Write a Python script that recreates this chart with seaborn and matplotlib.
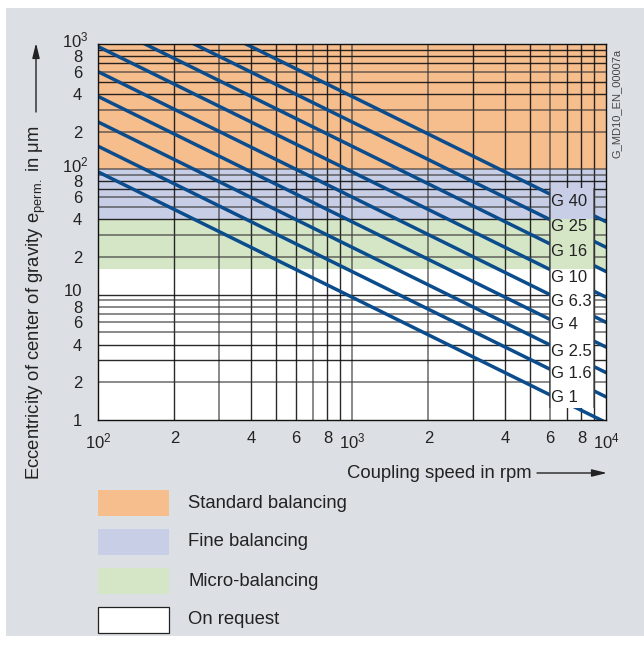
import pandas as pd
import seaborn as sns
import matplotlib.pyplot as plt
from matplotlib.patches import Rectangle
from matplotlib.ticker import NullLocator
from matplotlib.transforms import ScaledTranslation

# Balance grades, eccentricity at 100 rpm and at 10^4 rpm
grades = ['G 1', 'G 1.6', 'G 2.5', 'G 4', 'G 6.3', 'G 10', 'G 16', 'G 25', 'G 40']
speed_ends = [100, 10000]
e_at_100 = [95.5, 153, 239, 382, 602, 955, 1530, 2390, 3820]
e_at_10k = [0.955, 1.53, 2.39, 3.82, 6.02, 9.55, 15.3, 23.9, 38.2]
label_e = [1.5, 2.33, 3.55, 5.73, 8.9, 13.8, 21.9, 34.7, 55]

# balancing bands (eccentricity ranges)
bands = ['Standard balancing', 'Fine balancing', 'Micro-balancing', 'On request']
band_lo = [100, 40, 16, 1]
band_hi = [1000, 100, 40, 16]
band_colors = ['#f6bd8d', '#c8cee6', '#d5e6c7', '#ffffff']

# label box
box_speed = [6000, 9000]
box_e = [1.25, 71]

x_ticks = [100, 200, 400, 600, 800, 1000, 2000, 4000, 6000, 8000, 10000]
x_labels = ['$10^2$', '2', '4', '6', '8', '$10^3$', '2', '4', '6', '8', '$10^4$']
y_ticks = [1, 2, 4, 6, 8, 10, 20, 40, 60, 80, 100, 200, 400, 600, 800, 1000]
y_labels = ['1', '2', '4', '6', '8', '10', '2', '4', '6', '8', '$10^2$',
            '2', '4', '6', '8', '$10^3$']

x_grid = [200, 300, 400, 500, 600, 700, 800, 900, 1000,
          2000, 3000, 4000, 5000, 6000, 7000, 8000, 9000]
x_grid_gray = [300, 700, 1000, 2000, 6000]
y_grid = [2, 3, 4, 5, 6, 7, 8, 9, 10, 20, 30, 40, 50, 60, 70, 80, 90,
          100, 200, 300, 400, 500, 600, 700, 800, 900]
y_grid_gray = [2, 5, 6, 7, 8, 9, 20, 30, 50, 60, 90, 100, 200, 300, 600]

blue = '#0b4c8c'
txt = '#222222'

sns.set_style('white')
plt.rcParams['font.family'] = ['Liberation Sans', 'DejaVu Sans']
plt.rcParams['mathtext.fontset'] = 'custom'
plt.rcParams['mathtext.rm'] = 'Liberation Sans'
plt.rcParams['mathtext.it'] = 'Liberation Sans:italic'

W, H = 644, 645
fig = plt.figure(figsize=(W / 100, H / 100), dpi=100)
fig.patch.set_facecolor('white')
fig.patches.append(Rectangle((6 / W, 1 - 636 / H), 638 / W, 628 / H,
                             transform=fig.transFigure, facecolor='#dce0e4',
                             lw=0, zorder=-10))

ax = fig.add_axes([98 / W, 1 - 420 / H, 508 / W, 376 / H])
ax.set_facecolor('white')
ax.set_xscale('log')
ax.set_yscale('log')

# coloured bands
for lo, hi, c in zip(band_lo[:3], band_hi[:3], band_colors[:3]):
    ax.axhspan(lo, hi, color=c, lw=0, zorder=0)

# grid
for v in x_grid:
    if v in x_grid_gray:
        ax.axvline(v, color='#3a3a3a', lw=1.4, alpha=0.6, zorder=1)
    else:
        ax.axvline(v, color='#111111', lw=1.0, alpha=0.9, zorder=1)
for v in y_grid:
    if v in y_grid_gray:
        ax.axhline(v, color='#3a3a3a', lw=1.4, alpha=0.6, zorder=1)
    else:
        ax.axhline(v, color='#111111', lw=1.0, alpha=0.9, zorder=1)

# G lines
rows = []
for g, e0, e1 in zip(grades, e_at_100, e_at_10k):
    rows.append({'grade': g, 'speed': speed_ends[0], 'e': e0})
    rows.append({'grade': g, 'speed': speed_ends[1], 'e': e1})
df = pd.DataFrame(rows)
sns.lineplot(data=df, x='speed', y='e', hue='grade', palette=[blue] * len(grades),
             legend=False, lw=2.5, ax=ax, zorder=3, estimator=None, sort=False)

# label box hides grid and lines
for lo, hi, c in zip(band_lo[1:], band_hi[1:], band_colors[1:]):
    lo2, hi2 = max(lo, box_e[0]), min(hi, box_e[1])
    if hi2 > lo2:
        ax.add_patch(Rectangle((box_speed[0], lo2), box_speed[1] - box_speed[0],
                               hi2 - lo2, facecolor=c, lw=0, zorder=4))
for v in box_speed:
    ax.vlines(v, box_e[0], box_e[1], color='#3a3a3a', lw=1.2, alpha=0.8, zorder=5)
for g, e in zip(grades, label_e):
    ax.text(box_speed[0] * 1.01, e, g, ha='left', va='center', fontsize=12,
            color=txt, zorder=6)

ax.set_xlim(100, 10000)
ax.set_ylim(1, 1000)
ax.set_xticks(x_ticks, x_labels)
ax.set_yticks(y_ticks, y_labels)
ax.xaxis.set_minor_locator(NullLocator())
ax.yaxis.set_minor_locator(NullLocator())
ax.tick_params(width=0.9, labelsize=12, colors=txt)
ax.tick_params(axis='y', length=3.5, pad=8)
ax.tick_params(axis='x', length=5, pad=3)
ax.set_xlabel('')
ax.set_ylabel('')
for s in ax.spines.values():
    s.set_color('#111111')
    s.set_linewidth(1.0)
    s.set_zorder(6)

# decade labels on the y axis sit just above their tick
for lbl in ax.get_yticklabels():
    t = lbl.get_text()
    if t.startswith('10') or t.startswith('$10'):
        dx = 5 / 72 if t.startswith('$') else 0
        lbl.set_transform(lbl.get_transform() +
                          ScaledTranslation(dx, 5 / 100, fig.dpi_scale_trans))

# axis titles with arrows
fig.text(36 / W, 1 - 480 / H,
         'Eccentricity of center of gravity e$_{\\mathrm{perm.}}$ in μm',
         rotation=90, ha='center', va='bottom', fontsize=13.3, color=txt)
ax.annotate('', xy=(36 / W, 1 - 43 / H), xytext=(36 / W, 1 - 112 / H),
            xycoords='figure fraction', textcoords='figure fraction',
            arrowprops=dict(arrowstyle='-|>,head_length=0.9,head_width=0.22',
                            color=txt, lw=1.0, shrinkA=0, shrinkB=0))
fig.text(532 / W, 1 - 473 / H, 'Coupling speed in rpm', ha='right', va='center',
         fontsize=13.3, color=txt)
ax.annotate('', xy=(607 / W, 1 - 473 / H), xytext=(537 / W, 1 - 473 / H),
            xycoords='figure fraction', textcoords='figure fraction',
            arrowprops=dict(arrowstyle='-|>,head_length=0.9,head_width=0.22',
                            color=txt, lw=1.0, shrinkA=0, shrinkB=0))
fig.text(617 / W, 1 - 49 / H, 'G_MD10_EN_00007a', rotation=90, ha='center',
         va='top', fontsize=8, color='#444444')

# legend
for i, (name, c) in enumerate(zip(bands, band_colors)):
    top = 490 + 39 * i
    edge = '#222222' if c == '#ffffff' else 'none'
    fig.patches.append(Rectangle((98 / W, 1 - (top + 26) / H), 71 / W, 26 / H,
                                 transform=fig.transFigure, facecolor=c,
                                 edgecolor=edge, lw=0.9))
    fig.text(188 / W, 1 - (top + 13) / H, name, ha='left', va='center',
             fontsize=13.3, color=txt)

fig.savefig('out.png', dpi=100)
